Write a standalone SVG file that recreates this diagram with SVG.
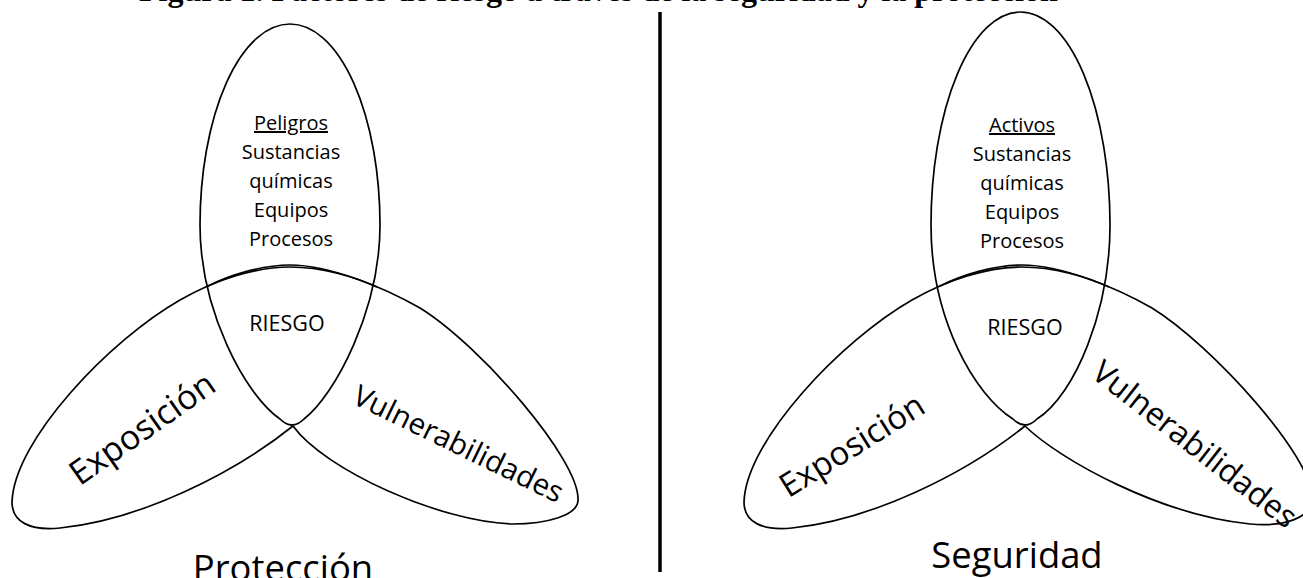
<svg xmlns="http://www.w3.org/2000/svg" width="1303" height="578" viewBox="0 0 1303 578">
<style>
.sh{fill:none;stroke:#000;stroke-width:1.7;stroke-linejoin:round}
.t{font-family:"Open Sans","Noto Sans","Liberation Sans",sans-serif;fill:#000;text-anchor:middle}
.ttl{font-family:"Liberation Serif","Times New Roman",serif;font-weight:bold;font-size:32px;fill:#000}
</style>
<rect width="1303" height="578" fill="#fff"/>
<text class="ttl" x="139" y="0.5">Figura 1. Factores de riesgo a través de la seguridad y la protección</text>
<g id="divider"><line x1="660" y1="12" x2="660" y2="572" stroke="#000" stroke-width="3.5"/></g>

<g id="proteccion">
  <g id="p-peligros">
    <path class="sh" d="M 200,225 A 90,201 0 0 1 380,225 C 380,310 335,395 304,419 Q 292,431 280,419 C 245,395 200,310 200,225 Z"/>
    <text class="t" x="291" y="130" font-size="20" text-decoration="underline">Peligros</text>
    <text class="t" x="291" y="159" font-size="20">Sustancias</text>
    <text class="t" x="291" y="188" font-size="20">químicas</text>
    <text class="t" x="291" y="217" font-size="20">Equipos</text>
    <text class="t" x="291" y="246" font-size="20">Procesos</text>
    <text class="t" x="287" y="331" font-size="21.5">RIESGO</text>
  </g>
  <g id="p-exposicion">
    <path class="sh" d="M 293,426 C 233,474 140,520 60,528 C 30,531 12,522 12,502 C 14,440 110,340 180,300 C 215,280 255,267 290,267 C 322,267 355,277 377,287"/>
    <text class="t" font-size="34" transform="translate(149,438) rotate(-35)">Exposición</text>
  </g>
  <g id="p-vulnerabilidades">
    <path class="sh" d="M 293,426 C 325,470 440,522 513,524 C 545,524 578,516 578,500 C 580,460 480,345 420,308 C 385,288 330,265 290,265 C 262,265 230,275 207,286.4"/>
    <text class="t" font-size="29.5" transform="translate(454,453) rotate(26)">Vulnerabilidades</text>
  </g>
  <text class="t" x="283" y="581" font-size="36.4">Protección</text>
</g>

<g id="seguridad">
  <g id="s-activos">
    <path class="sh" d="M 931,225 A 89.5,213 0 0 1 1110,225 C 1110,310 1075,395 1037,419 Q 1025,431 1013,419 C 975,395 931,320 931,225 Z"/>
    <text class="t" x="1022" y="132" font-size="20" text-decoration="underline">Activos</text>
    <text class="t" x="1022" y="161" font-size="20">Sustancias</text>
    <text class="t" x="1022" y="190" font-size="20">químicas</text>
    <text class="t" x="1022" y="219" font-size="20">Equipos</text>
    <text class="t" x="1022" y="248" font-size="20">Procesos</text>
    <text class="t" x="1025" y="335" font-size="21.5">RIESGO</text>
  </g>
  <g id="s-exposicion">
    <path class="sh" d="M 1025,426 C 965,474 872,520 792,528 C 762,531 744,522 744,502 C 746,440 842,340 912,300 C 947,280 987,267 1022,267 C 1054,267 1087,277 1109,287"/>
    <text class="t" font-size="33" transform="translate(858,455) rotate(-32)">Exposición</text>
  </g>
  <g id="s-vulnerabilidades">
    <path class="sh" d="M 1025,426 C 1060,460 1160,515 1250,524 C 1285,527 1312,518 1312,498 C 1314,458 1212,345 1152,308 C 1117,288 1062,265 1022,265 C 994,265 962,275 939,286.4"/>
    <text class="t" font-size="32" transform="translate(1188,453) rotate(38)">Vulnerabilidades</text>
  </g>
  <text class="t" x="1017" y="568" font-size="36.4">Seguridad</text>
</g>
</svg>
